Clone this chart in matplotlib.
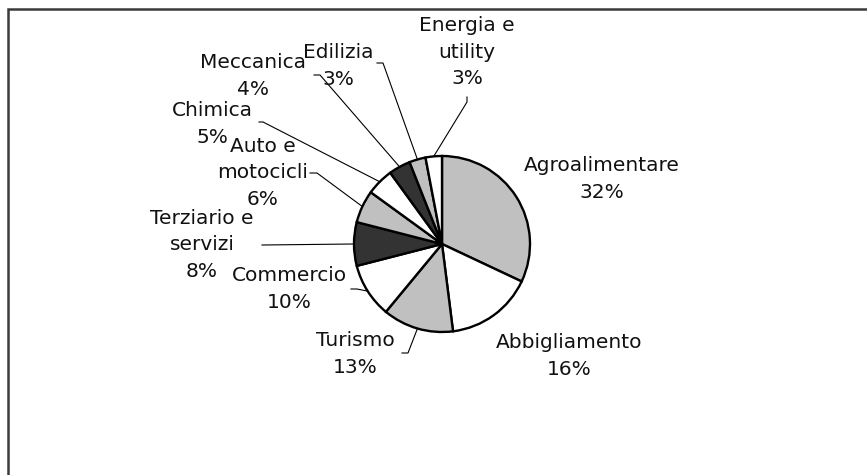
import matplotlib
matplotlib.use("Agg")
import matplotlib.pyplot as plt
import numpy as np
from matplotlib.lines import Line2D

# ---- data ----
categories = ["Agroalimentare", "Abbigliamento", "Turismo", "Commercio",
              "Terziario e\nservizi", "Auto e\nmotocicli", "Chimica",
              "Meccanica", "Edilizia", "Energia e\nutility"]
values = [32, 16, 13, 10, 8, 6, 5, 4, 3, 3]
colors = ["#C0C0C0", "#FFFFFF", "#C0C0C0", "#FFFFFF", "#333333",
          "#C0C0C0", "#FFFFFF", "#333333", "#C0C0C0", "#FFFFFF"]

# ---- layout (pixel coordinates, y measured from top) ----
W, H = 867, 475
CX, CY, R = 442, 244, 88
label_pos = [(602, 179), (569, 356), (355, 354), (289, 289), (202, 245),
             (263, 173), (212, 124), (253, 76), (338, 66), (467, 52)]
# leader-line anchor points near the labels (None = no leader line)
leader_anchor = [None, None,
                 [(402, 353), (408, 353)],
                 [(351, 289), (357, 289)],
                 [(262, 245)],
                 [(310, 173), (317, 173)],
                 [(259, 122), (263, 122)],
                 [(314, 75), (320, 75)],
                 [(377, 63), (383, 63)],
                 [(467, 97), (467, 102)]]

fig = plt.figure(figsize=(W / 100, H / 100), dpi=100)
ax = fig.add_axes([0, 0, 1, 1])

def py(y):
    return H - y

wedges, _ = ax.pie(values, colors=colors, startangle=90, counterclock=False,
                   center=(CX, py(CY)), radius=R,
                   wedgeprops=dict(edgecolor="black", linewidth=1.7))

for w, lab, v, pos, anc in zip(wedges, categories, values, label_pos, leader_anchor):
    ax.text(pos[0], py(pos[1]), f"{lab}\n{v}%", ha="center", va="center",
            multialignment="center", fontsize=14.5, color="#111111",
            linespacing=1.5, family="DejaVu Sans")
    if anc is not None:
        mid = np.deg2rad((w.theta1 + w.theta2) / 2)
        ex = CX + R * np.cos(mid)
        ey = py(CY) + R * np.sin(mid)
        xs = [a[0] for a in anc] + [ex]
        ys = [py(a[1]) for a in anc] + [ey]
        ax.plot(xs, ys, color="black", linewidth=0.8)

ax.set_xlim(0, W)
ax.set_ylim(0, H)
ax.set_aspect("auto")
ax.axis("off")

# frame of the chart area (partially visible)
fx0, fy0 = 8, 9
ax.add_line(Line2D([fx0, fx0, W + 5], [-5, py(fy0), py(fy0)],
                   color="#3a3a3a", linewidth=1.8, solid_joinstyle="miter",
                   clip_on=False))

fig.savefig("out.png", dpi=100)
